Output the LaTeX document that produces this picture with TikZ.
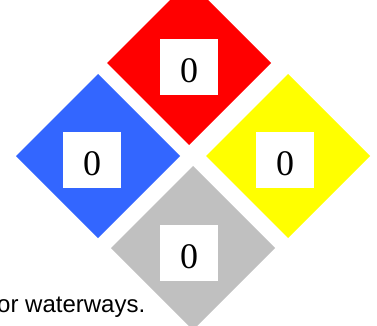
\documentclass[tikz,border=0pt]{standalone}
\usepackage{fontspec}
\setmainfont{Liberation Serif}
\setsansfont{Liberation Sans}
\definecolor{hzred}{HTML}{FF0000}
\definecolor{hzblue}{HTML}{3366FF}
\definecolor{hzyellow}{HTML}{FFFF00}
\definecolor{hzgray}{HTML}{C0C0C0}
\usepackage{tikz}
\usetikzlibrary{shapes.geometric}
\tikzset{
  hz_diamond/.style={diamond,aspect=1,minimum size=164pt,inner sep=0pt,outer sep=0pt,draw=none},
  num_box/.style={fill=white,minimum width=58pt,minimum height=56pt,inner sep=0pt,
    text height=31pt,text depth=0pt,font=\fontsize{36}{36}\selectfont},
  note_txt/.style={anchor=base west,inner sep=0pt,font=\sffamily\fontsize{24}{24}\selectfont},
}

\begin{document}
\begin{tikzpicture}[x=1pt,y=-1pt]
    \clip (0,0) rectangle (377,326);
    \fill[white] (0,0) rectangle (377,326);
    \node[hz_diamond,fill=hzred] (fire) at (189,63) {};
    \node[hz_diamond,fill=hzblue] (health) at (98,156) {};
    \node[hz_diamond,fill=hzyellow] (react) at (288,156) {};
    \node[hz_diamond,fill=hzgray] (special) at (193,248) {};
    \node[num_box] (fire_n) at (189,67) {0};
    \node[num_box] (health_n) at (92,160) {0};
    \node[num_box] (react_n) at (285,160) {0};
    \node[num_box] (special_n) at (189,253) {0};
    \node[note_txt] (note) at (-3,312) {or waterways.};
  \end{tikzpicture}
\end{document}
